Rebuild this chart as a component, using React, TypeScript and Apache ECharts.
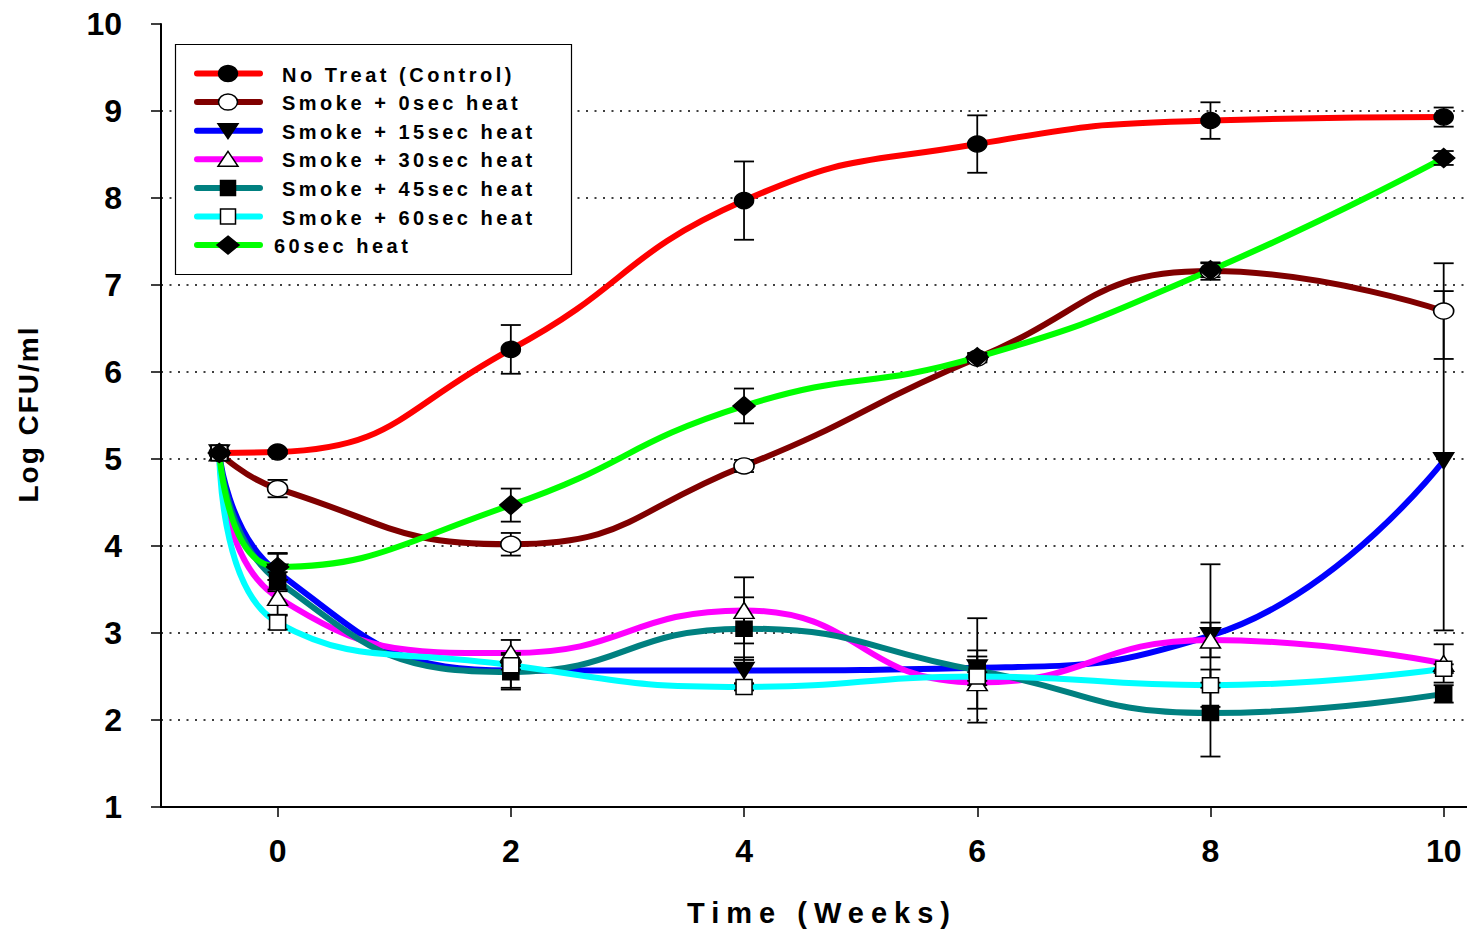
import React, { useEffect, useRef } from 'react';
import * as echarts from 'echarts';

const weeks = [-0.5, 0, 2, 4, 6, 8, 10];
const xTickValues = [0, 2, 4, 6, 8, 10];

const seriesNames = [
  'No Treat (Control)',
  'Smoke + 0sec heat',
  'Smoke + 15sec heat',
  'Smoke + 30sec heat',
  'Smoke + 45sec heat',
  'Smoke + 60sec heat',
  '60sec heat',
];

const noTreat = [5.07, 5.08, 6.26, 7.97, 8.62, 8.89, 8.93];
const noTreatErr = [0, 0.02, 0.28, 0.45, 0.33, 0.21, 0.11];
const smoke0 = [5.07, 4.66, 4.02, 4.92, 6.16, 7.16, 6.7];
const smoke0Err = [0, 0.1, 0.13, 0.07, 0.05, 0.1, 0.55];
const smoke15 = [5.07, 3.7, 2.57, 2.57, 2.6, 2.97, 4.98];
const smoke15Err = [0, 0.22, 0.2, 0.15, 0.2, 0.82, 1.95];
const smoke30 = [5.07, 3.41, 2.77, 3.26, 2.43, 2.92, 2.65];
const smoke30Err = [0, 0.2, 0.15, 0.38, 0.3, 0.2, 0.22];
const smoke45 = [5.07, 3.6, 2.55, 3.05, 2.57, 2.08, 2.3];
const smoke45Err = [0, 0.1, 0.2, 0.36, 0.6, 0.5, 0.1];
const smoke60 = [5.07, 3.12, 2.63, 2.38, 2.5, 2.4, 2.59];
const smoke60Err = [0, 0.08, 0.05, 0.04, 0.05, 0.03, 0.05];
const heat60 = [5.07, 3.76, 4.47, 5.61, 6.17, 7.17, 8.46];
const heat60Err = [0, 0.15, 0.19, 0.2, 0.05, 0.08, 0.08];

const values = [noTreat, smoke0, smoke15, smoke30, smoke45, smoke60, heat60];
const errors = [noTreatErr, smoke0Err, smoke15Err, smoke30Err, smoke45Err, smoke60Err, heat60Err];

const lineColors = ['#ff0000', '#800000', '#0000ff', '#ff00ff', '#008080', '#00ffff', '#00ff00'];

type Marker = { symbol: string; size: number[]; fill: string; rotate: number };
const markers: Marker[] = [
  { symbol: 'circle', size: [19, 16], fill: '#000000', rotate: 0 },
  { symbol: 'circle', size: [20, 16], fill: '#ffffff', rotate: 0 },
  { symbol: 'triangle', size: [20, 16], fill: '#000000', rotate: 180 },
  { symbol: 'triangle', size: [20, 16], fill: '#ffffff', rotate: 0 },
  { symbol: 'rect', size: [16, 15], fill: '#000000', rotate: 0 },
  { symbol: 'rect', size: [16, 15], fill: '#ffffff', rotate: 0 },
  { symbol: 'diamond', size: [22, 19], fill: '#000000', rotate: 0 },
];

const FONT = '"Liberation Sans", Arial, sans-serif';

function legendSymbol(i: number, cx: number, cy: number): any {
  const m = markers[i];
  const style = { fill: m.fill, stroke: '#000', lineWidth: 1.5 };
  if (m.symbol === 'circle') {
    return { type: 'ellipse', shape: { cx, cy, rx: 9.5, ry: 8 }, style, z: 102 };
  }
  if (m.symbol === 'triangle' && m.rotate === 180) {
    return { type: 'polygon', shape: { points: [[cx - 10, cy - 7], [cx + 10, cy - 7], [cx, cy + 8]] }, style, z: 102 };
  }
  if (m.symbol === 'triangle') {
    return { type: 'polygon', shape: { points: [[cx, cy - 8], [cx + 10, cy + 7], [cx - 10, cy + 7]] }, style, z: 102 };
  }
  if (m.symbol === 'rect') {
    return { type: 'rect', shape: { x: cx - 7.5, y: cy - 7.5, width: 15, height: 15 }, style, z: 102 };
  }
  return { type: 'polygon', shape: { points: [[cx, cy - 9], [cx + 11, cy], [cx, cy + 9], [cx - 11, cy]] }, style, z: 102 };
}

export default function App() {
  const ref = useRef<HTMLDivElement>(null);

  useEffect(() => {
    const el = ref.current!;
    const chart = echarts.init(el, undefined, { renderer: 'svg' });

    const lineSeries = seriesNames.map((name, i) => ({
      name,
      type: 'line',
      smooth: true,
      symbol: 'none',
      data: weeks.map((w, k) => [w, values[i][k]]),
      lineStyle: { color: lineColors[i], width: 6 },
      itemStyle: { color: lineColors[i] },
      z: 2 + i * 0.01,
      silent: true,
    }));

    const errSeries = seriesNames.map((name, i) => ({
      name: name + ' error',
      type: 'custom',
      z: 3,
      clip: false,
      silent: true,
      encode: { x: 0, y: [1, 2] },
      data: weeks
        .map((w, k) => [w, values[i][k] - errors[i][k], values[i][k] + errors[i][k], errors[i][k]])
        .filter((d) => d[3] > 0),
      renderItem: (params: any, api: any) => {
        const x = api.value(0);
        const lo = api.coord([x, api.value(1)]);
        const hi = api.coord([x, api.value(2)]);
        const hw = 10;
        const style = { stroke: '#000', lineWidth: 1.8 };
        return {
          type: 'group',
          children: [
            { type: 'line', shape: { x1: lo[0], y1: lo[1], x2: hi[0], y2: hi[1] }, style },
            { type: 'line', shape: { x1: lo[0] - hw, y1: lo[1], x2: lo[0] + hw, y2: lo[1] }, style },
            { type: 'line', shape: { x1: hi[0] - hw, y1: hi[1], x2: hi[0] + hw, y2: hi[1] }, style },
          ],
        };
      },
    }));

    const markerSeries = seriesNames.map((name, i) => ({
      name: name + ' markers',
      type: 'scatter',
      z: 4 + i * 0.01,
      silent: true,
      symbol: markers[i].symbol,
      symbolSize: markers[i].size,
      symbolRotate: markers[i].rotate,
      data: weeks.map((w, k) => [w, values[i][k]]),
      itemStyle: { color: markers[i].fill, borderColor: '#000', borderWidth: 1.5, opacity: 1 },
    }));

    const legendTop = 73.5;
    const legendStep = 28.6;
    const legendGraphics: any[] = [
      {
        type: 'rect',
        shape: { x: 175.5, y: 44.5, width: 396, height: 230 },
        style: { fill: '#ffffff', stroke: '#000', lineWidth: 1.2 },
        z: 100,
      },
    ];
    seriesNames.forEach((name, i) => {
      const cy = legendTop + i * legendStep;
      legendGraphics.push({
        type: 'line',
        shape: { x1: 197, y1: cy, x2: 260, y2: cy },
        style: { stroke: lineColors[i], lineWidth: 6, lineCap: 'round' },
        z: 101,
      });
      legendGraphics.push(legendSymbol(i, 228, cy));
      legendGraphics.push({
        type: 'text',
        x: i === 6 ? 274 : 282,
        y: cy + 1,
        z: 103,
        style: { text: name, font: `bold 20px ${FONT}`, fill: '#000', align: 'left', verticalAlign: 'middle' },
      });
    });

    const option: any = {
      animation: false,
      backgroundColor: '#ffffff',
      grid: { left: 161, right: -3, top: 24, bottom: 123, containLabel: false },
      xAxis: {
        type: 'value',
        min: -1,
        max: 10.2,
        axisLine: { show: true, onZero: false, lineStyle: { color: '#000', width: 2 } },
        axisTick: { show: true, customValues: xTickValues, length: 10, lineStyle: { color: '#000', width: 1.5 } },
        axisLabel: {
          show: true,
          customValues: xTickValues,
          margin: 28,
          color: '#000',
          fontSize: 32,
          fontWeight: 'bold',
          fontFamily: FONT,
        },
        splitLine: { show: false },
      },
      yAxis: {
        type: 'value',
        min: 1,
        max: 10,
        interval: 1,
        axisLine: { show: true, onZero: false, lineStyle: { color: '#000', width: 2 } },
        axisTick: { show: true, length: 10, lineStyle: { color: '#000', width: 1.5 } },
        axisLabel: {
          margin: 39,
          color: '#000',
          fontSize: 32,
          fontWeight: 'bold',
          fontFamily: FONT,
        },
        splitLine: {
          show: true,
          showMinLine: false,
          showMaxLine: false,
          lineStyle: { color: '#000', width: 1.5, type: [2, 6.5] },
        },
      },
      graphic: [
        ...legendGraphics,
        {
          type: 'text',
          x: 822,
          y: 913,
          style: { text: 'Time (Weeks)', font: `bold 29px ${FONT}`, fill: '#000', align: 'center', verticalAlign: 'middle' },
        },
        {
          type: 'text',
          x: 28,
          y: 414,
          rotation: Math.PI / 2,
          style: { text: 'Log CFU/ml', font: `bold 28px ${FONT}`, fill: '#000', align: 'center', verticalAlign: 'middle' },
        },
      ],
      series: [...lineSeries, ...errSeries, ...markerSeries],
    };

    chart.setOption(option);

    const spacing: Record<string, number> = { 'Time (Weeks)': 7, 'Log CFU/ml': 2 };
    seriesNames.forEach((n) => (spacing[n] = 3.5));
    const applySpacing = () => {
      el.querySelectorAll('text').forEach((t) => {
        const s = spacing[(t.textContent || '').trim()];
        if (s) t.setAttribute('letter-spacing', String(s));
      });
    };
    applySpacing();
    chart.on('finished', applySpacing);
    const timer = setTimeout(applySpacing, 50);

    return () => {
      clearTimeout(timer);
      chart.dispose();
    };
  }, []);

  return (
    <div
      ref={ref}
      style={{ position: 'absolute', left: 0, top: 0, width: 1467, height: 930, background: '#fff' }}
    />
  );
}
